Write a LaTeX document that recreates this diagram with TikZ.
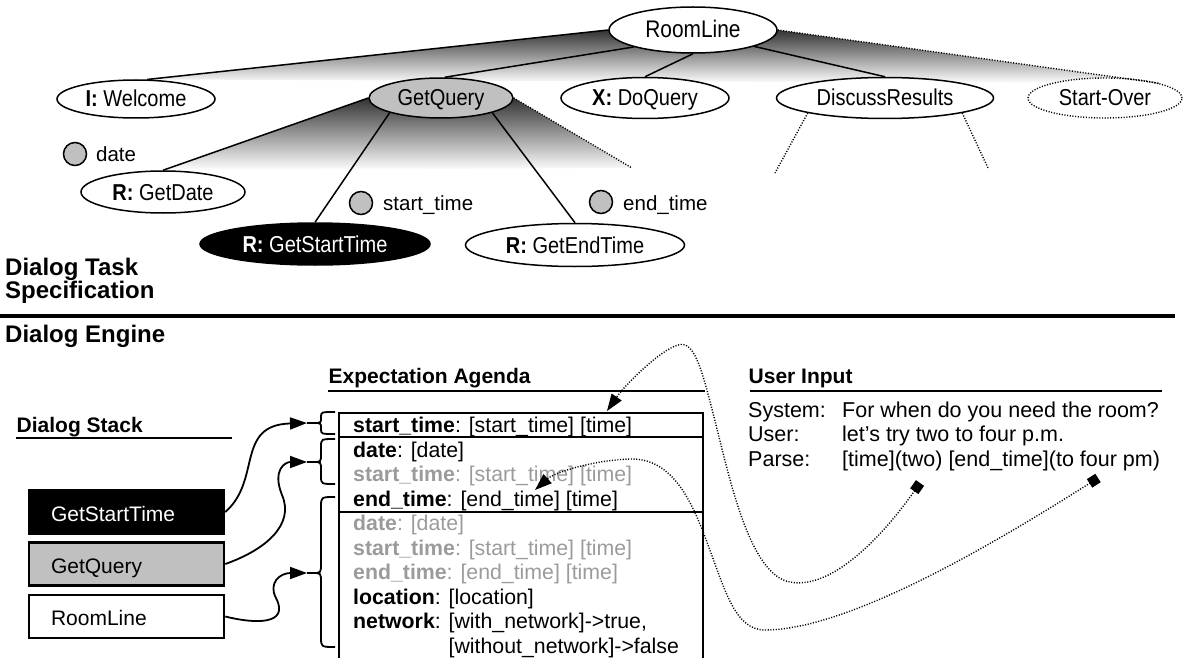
\documentclass[tikz,border=0pt]{standalone}
\usepackage{fontspec}
\setmainfont{Liberation Sans}
\newfontfamily\narrowsans[FakeStretch=0.87]{Liberation Sans}
\usetikzlibrary{shapes.geometric,arrows.meta,backgrounds}
\definecolor{silver}{RGB}{192,192,192}
\definecolor{fadedtext}{RGB}{155,155,155}
\begin{document}
\begin{tikzpicture}[x=1pt,y=-1pt,
  tnode/.style={ellipse, draw, line width=1.5pt, fill=white, inner sep=0pt, text height=16pt, text depth=0pt, font=\narrowsans\fontsize{23}{26}\selectfont},
  tline/.style={line width=1.5pt},
  tdot/.style={line width=1.4pt, dash pattern=on 1.1pt off 1.6pt},
  slot/.style={circle, draw, line width=1.5pt, fill=silver, minimum size=23pt, inner sep=0pt},
  slotlabel/.style={anchor=base west, inner sep=0pt, font=\fontsize{20.5}{24}\selectfont},
  bighead/.style={anchor=base west, inner sep=0pt, font=\bfseries\fontsize{24}{28}\selectfont},
  sechead/.style={anchor=base west, inner sep=0pt, font=\bfseries\fontsize{21}{25}\selectfont},
  hrulestyle/.style={line width=2pt},
  stackbox/.style={rectangle, draw, line width=2.5pt, minimum width=195pt, minimum height=43pt, text width=151pt, inner xsep=22pt, inner ysep=0pt, align=left, text height=18pt, text depth=0pt, font=\fontsize{21}{24}\selectfont},
  agrow/.style={anchor=base west, inner sep=0pt, font=\fontsize{21.3}{24}\selectfont},
  fadedrow/.style={agrow, text=fadedtext},
  brc/.style={line width=1.8pt},
  stackarrow/.style={line width=1.8pt, -{Triangle[length=17pt,width=12pt]}},
  dotarrow/.style={line width=1.4pt, dash pattern=on 1.1pt off 1.6pt, {Square[length=10pt,width=10pt]}-{Triangle[length=17pt,width=12pt]}},
  txt/.style={anchor=base west, inner sep=0pt, font=\fontsize{21.5}{24}\selectfont}
]
\useasboundingbox (0,0) rectangle (1183,658);

% ---------- task tree ----------
\node[tnode, minimum width=168pt, minimum height=46pt, font=\narrowsans\fontsize{24}{26}\selectfont] (RL) at (693,30) {RoomLine};
\node[tnode, minimum width=158pt, minimum height=38pt] (W) at (136,99) {\textbf{I:} Welcome};
\node[tnode, fill=silver, minimum width=144pt, minimum height=40pt] (GQ) at (441,98) {GetQuery};
\node[tnode, minimum width=168pt, minimum height=41pt] (DQ) at (645,98) {\textbf{X:} DoQuery};
\node[tnode, minimum width=217pt, minimum height=41pt] (DR) at (885,98) {DiscussResults};
\node[tnode, tdot, minimum width=154pt, minimum height=40pt] (SO) at (1105,98) {Start-Over};
\node[tnode, minimum width=164pt, minimum height=42pt] (GD) at (163,192) {\textbf{R:} GetDate};
\node[tnode, fill=black, text=white, minimum width=230pt, minimum height=42pt] (GST) at (315,244) {\textbf{R:} GetStartTime};
\node[tnode, minimum width=219pt, minimum height=43pt] (GET) at (575,245) {\textbf{R:} GetEndTime};

\coordinate (gqend) at (632,168);
\coordinate (dr1) at (775,173);
\coordinate (dr2) at (988,168);

\begin{scope}[on background layer]
  \shade[top color=black!80, bottom color=white] (RL.180) -- (W.60) -- (SO.15) -- (RL.0) -- cycle;
  \shade[top color=black!80, bottom color=white] (GQ.180) -- (GD.north) -- (gqend) -- (GQ.0) -- cycle;
\end{scope}

\draw[tline] (RL.180) -- (W.60);
\draw[tline] (RL.196) -- (GQ.80);
\draw[tline] (RL.270) -- (DQ.north);
\draw[tline] (RL.345) -- (DR.north);
\draw[tdot] (RL.0) -- (SO.15);
\draw[tline] (GQ.180) -- (GD.north);
\draw[tline] (GQ.196) -- (GST.north);
\draw[tline] (GQ.344) -- (GET.north);
\draw[tdot] (GQ.0) -- (gqend);
\draw[tdot] (DR.191) -- (dr1);
\draw[tdot] (DR.349) -- (dr2);

\node[slot] (c1) at (75,154) {};
\node[slotlabel] (l1) at (96,161.5) {date};
\node[slot] (c2) at (361,203) {};
\node[slotlabel] (l2) at (383,210) {start\_time};
\node[slot] (c3) at (601,202) {};
\node[slotlabel] (l3) at (623,210) {end\_time};

\node[bighead] (dts1) at (5,275) {Dialog Task};
\node[bighead] (dts2) at (5,298) {Specification};
\draw[line width=4.5pt] (0,316) -- (1175,316);
\node[bighead] (de) at (5,342) {Dialog Engine};

% ---------- dialog stack ----------
\node[sechead] (dsh) at (16.5,432) {Dialog Stack};
\draw[hrulestyle] (16,438) -- (232,438);
\node[stackbox, fill=black, text=white] (sGST) at (126.5,512) {GetStartTime};
\node[stackbox, fill=silver] (sGQ) at (126.5,564) {GetQuery};
\node[stackbox, fill=white] (sRL) at (126.5,616.5) {RoomLine};

% ---------- expectation agenda ----------
\node[sechead] (eah) at (328.5,383) {Expectation Agenda};
\draw[hrulestyle] (328,391) -- (705,391);
\node[draw, line width=2pt, minimum width=364pt, minimum height=252pt, inner sep=0pt, anchor=north west] (agenda) at (338,412) {};
\draw[line width=2pt] (338,437) -- (702,437);
\draw[line width=2pt] (338,512) -- (702,512);

\node[agrow] (r1) at (353,432) {\textbf{start\_time}: [start\_time] [time]};
\node[agrow] (r2) at (353,457) {\textbf{date}: [date]};
\node[fadedrow] (r3) at (353,481.5) {\textbf{start\_time}: [start\_time] [time]};
\node[agrow] (r4) at (353,506) {\textbf{end\_time}: [end\_time] [time]};
\node[fadedrow] (r5) at (353,530.5) {\textbf{date}: [date]};
\node[fadedrow] (r6) at (353,555) {\textbf{start\_time}: [start\_time] [time]};
\node[fadedrow] (r7) at (353,579.5) {\textbf{end\_time}: [end\_time] [time]};
\node[agrow] (r8) at (353,604) {\textbf{location}: [location]};
\node[agrow] (r9) at (353,628.5) {\textbf{network}: [with\_network]->true,};
\node[agrow] (r10) at (353,653) {\phantom{\textbf{network}: }[without\_network]->false};

% braces
\coordinate (b1) at (307,423);
\coordinate (b2) at (307,462);
\coordinate (b3) at (307,573);
\draw[brc] (335,412) .. controls (321,412) .. (321,417) -- (321,418) .. controls (321,423) .. (313,423) -- (b1) -- (313,423) .. controls (321,423) .. (321,428) -- (321,429) .. controls (321,434) .. (335,434);
\draw[brc] (335,439) .. controls (321,439) .. (321,447) -- (321,454) .. controls (321,462) .. (313,462) -- (b2) -- (313,462) .. controls (321,462) .. (321,470) -- (321,476) .. controls (321,484) .. (335,484);
\draw[brc] (335,497) .. controls (321,497) .. (321,507) -- (321,563) .. controls (321,573) .. (313,573) -- (b3) -- (313,573) .. controls (321,573) .. (321,583) -- (321,637) .. controls (321,647) .. (335,647);

\draw[stackarrow] (sGST.east) .. controls (262,480) and (235,425) .. (b1);
\draw[stackarrow] (sGQ.east) .. controls (265,550) and (295,525) .. (282,495) .. controls (272,470) and (285,462) .. (b2);
\draw[stackarrow] (sRL.east) .. controls (255,624) and (290,625) .. (276,598) .. controls (268,583) and (280,573) .. (b3);

% ---------- user input ----------
\node[sechead] (uih) at (748.5,383) {User Input};
\draw[hrulestyle] (750,391) -- (1162,391);
\node[txt] (u1a) at (748,417) {System:};
\node[txt] (u1b) at (842,417) {For when do you need the room?};
\node[txt] (u2a) at (748,441.5) {User:};
\node[txt] (u2b) at (842,441.5) {let’s try two to four p.m.};
\node[txt] (u3a) at (748,466) {Parse:};
\node[txt] (u3b) at (842,466) {[time](two) [end\_time](to four pm)};

\coordinate (m1) at (920,483);
\coordinate (m2) at (1098,478);
\coordinate (t1) at (607,411);
\coordinate (t2) at (535,490);
\draw[dotarrow] (m1) .. controls (880,540) and (830,590) .. (790,582) .. controls (750,575) and (730,480) .. (716,425) .. controls (702,370) and (695,340) .. (678,345) .. controls (660,350) and (625,385) .. (t1);
\draw[dotarrow] (m2) .. controls (1000,540) and (850,630) .. (765,630) .. controls (735,630) and (725,590) .. (708,545) .. controls (690,495) and (670,458) .. (630,459) .. controls (595,460) and (555,472) .. (t2);
\end{tikzpicture}
\end{document}
